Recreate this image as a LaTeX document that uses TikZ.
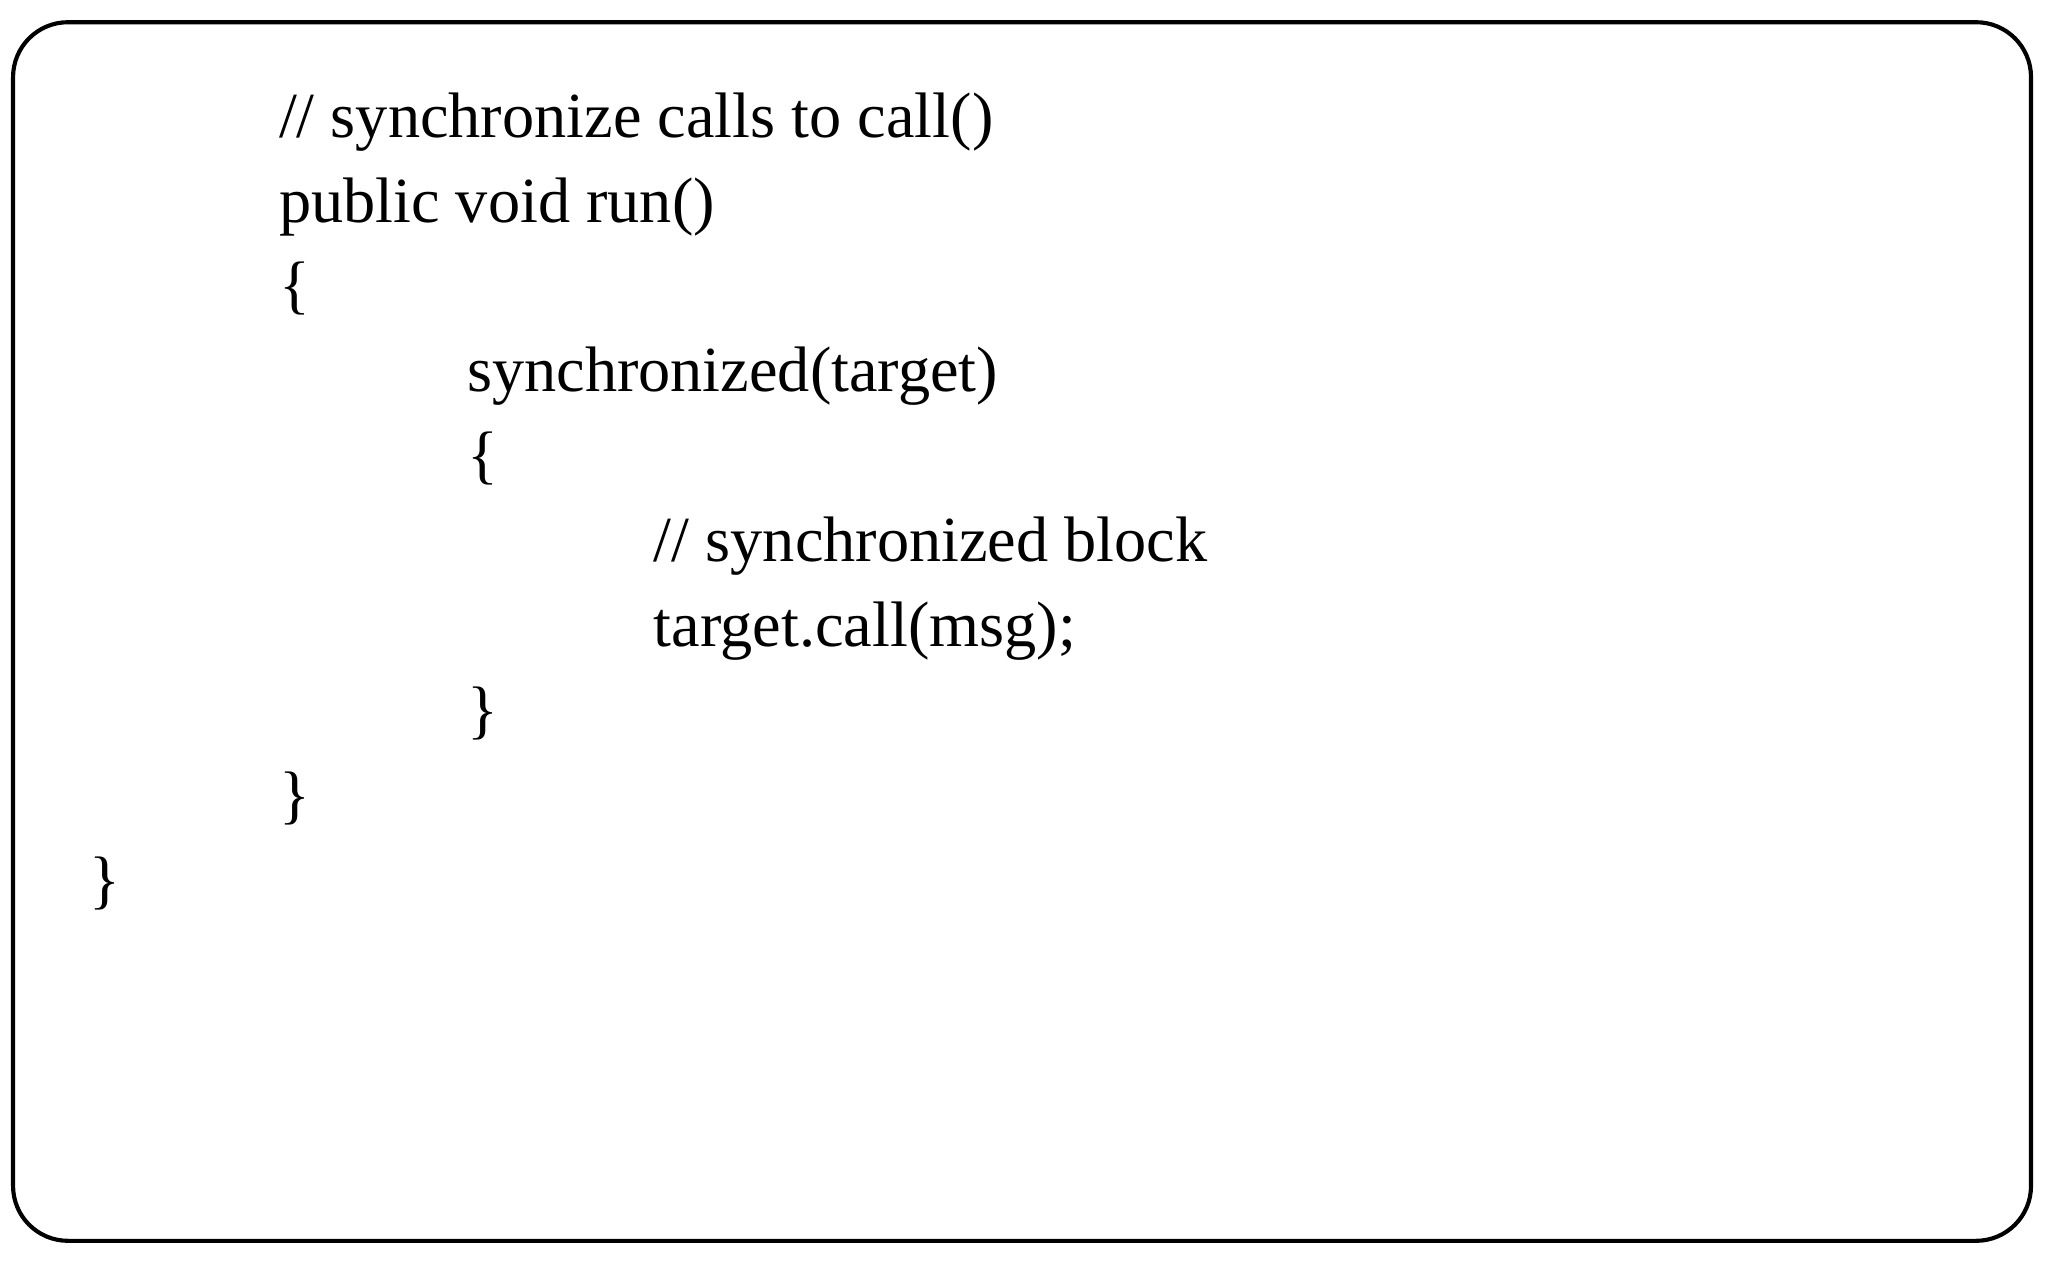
\documentclass[tikz,border=0pt]{standalone}
\usepackage{fontspec}
\setmainfont{Liberation Serif}
\usetikzlibrary{positioning}
\newcommand{\codeline}[1]{\fontsize{14}{17}\selectfont #1}
\begin{document}
\begin{tikzpicture}[x=0.01cm,y=-0.01cm,
	code/.style={anchor=base west, inner sep=0pt}]

\useasboundingbox (0,0) rectangle (1568,972);
\draw[line width=0.9pt, rounded corners=0.42cm] (10,17) rectangle (1555,950);

\node[code] (c1) at (213,105) {\codeline{// synchronize calls to call()}};
\node[code] (c2) at (213,170) {\codeline{public void run()}};
\node[code] (c3) at (213,235) {\codeline{\{}};
\node[code] (c4) at (357,300) {\codeline{synchronized(target)}};
\node[code] (c5) at (357,365) {\codeline{\{}};
\node[code] (c6) at (500,430) {\codeline{// synchronized block}};
\node[code] (c7) at (500,495) {\codeline{target.call(msg);}};
\node[code] (c8) at (357,560) {\codeline{\}}};
\node[code] (c9) at (213,625) {\codeline{\}}};
\node[code] (c10) at (68,690) {\codeline{\}}};

\end{tikzpicture}
\end{document}
